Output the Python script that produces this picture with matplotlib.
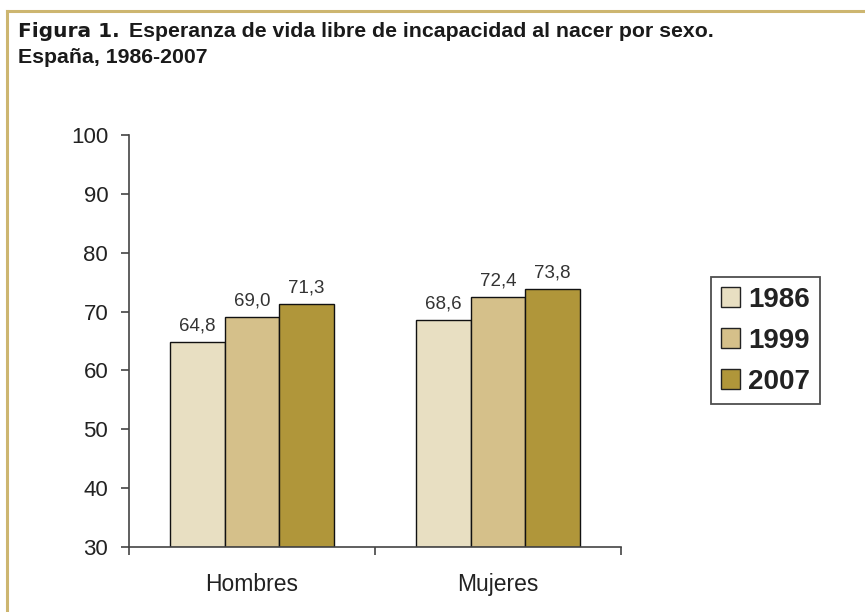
import matplotlib
matplotlib.use("Agg")
import matplotlib.pyplot as plt
import numpy as np
from matplotlib.patches import Rectangle
from matplotlib.lines import Line2D

categories = ["Hombres", "Mujeres"]
years = ["1986", "1999", "2007"]
values_1986 = [64.8, 68.6]
values_1999 = [69.0, 72.4]
values_2007 = [71.3, 73.8]
series = [values_1986, values_1999, values_2007]
colors = ["#E8DFC2", "#D5C08A", "#B0963A"]
yticks = [30, 40, 50, 60, 70, 80, 90, 100]

plt.rcParams['font.family'] = ['Liberation Sans', 'DejaVu Sans']

fig = plt.figure(figsize=(8.65, 6.12), dpi=100)
W, H = 865, 612

# frame lines (top and left)
fig.add_artist(Line2D([7 / W, 1], [1 - 11 / H, 1 - 11 / H], color="#CDB670", lw=2.2, transform=fig.transFigure))
fig.add_artist(Line2D([7 / W, 7 / W], [0, 1 - 11 / H], color="#CDB670", lw=2.2, transform=fig.transFigure))

fig.text(18 / W, 1 - 37 / H, "Figura 1.", fontsize=14.5, fontweight="bold",
         family=["DejaVu Sans"], va="baseline", color="#1a1a1a")
fig.text(129 / W, 1 - 37 / H, "Esperanza de vida libre de incapacidad al nacer por sexo.", fontsize=15.3,
         fontweight="bold", va="baseline", color="#1a1a1a")
fig.text(18 / W, 1 - 63 / H, "España, 1986-2007", fontsize=15.3, fontweight="bold",
         va="baseline", color="#1a1a1a")

ax = fig.add_axes([129 / W, 1 - 547 / H, (621 - 129) / W, (547 - 135) / H])
x = np.arange(len(categories))
bw = 0.222
for i, (vals, c, yr) in enumerate(zip(series, colors, years)):
    pos = x + (i - 1) * bw
    ax.bar(pos, [v - 30 for v in vals], bottom=30, width=bw, color=c,
           edgecolor="#111111", linewidth=1.0, label=yr, zorder=2)
    for p, v in zip(pos, vals):
        ax.annotate(f"{v:.1f}".replace(".", ","), (p, v), xytext=(0, 8.5),
                    textcoords="offset points", ha="center", va="baseline",
                    fontsize=13.5, color="#333333")

ax.set_xlim(-0.5, 1.5)
ax.set_ylim(30, 100)
ax.set_yticks(yticks)
ax.set_yticklabels([str(t) for t in yticks], fontsize=16, color="#222222")
ax.set_xticks([-0.5, 0.5, 1.5])
ax.set_xticklabels([])
ax.set_xticks(x, minor=True)
ax.set_xticklabels(categories, minor=True, fontsize=16.5, color="#222222")
ax.tick_params(axis="x", which="minor", length=0, pad=19)
ax.tick_params(axis="x", which="major", direction="out", length=6, width=1.2, color="#444444")
ax.tick_params(axis="y", direction="out", length=6, width=1.2, color="#444444", pad=9)
for s in ["top", "right"]:
    ax.spines[s].set_visible(False)
for s in ["left", "bottom"]:
    ax.spines[s].set_color("#444444")
    ax.spines[s].set_linewidth(1.2)

handles = [Rectangle((0, 0), 1, 1, facecolor=c, edgecolor="#222222", linewidth=1.0) for c in colors]
leg = fig.legend(handles, years, loc="upper left", bbox_to_anchor=(711 / W, 1 - 277 / H),
                 prop={"size": 20, "weight": "bold"}, frameon=True, fancybox=False,
                 edgecolor="#222222", handlelength=0.68, handleheight=0.68, handletextpad=0.3,
                 labelspacing=0.54, borderpad=0.35, borderaxespad=0)
leg.get_frame().set_linewidth(1.3)
for t in leg.get_texts():
    t.set_color("#222222")

fig.savefig("out.png", dpi=100)
